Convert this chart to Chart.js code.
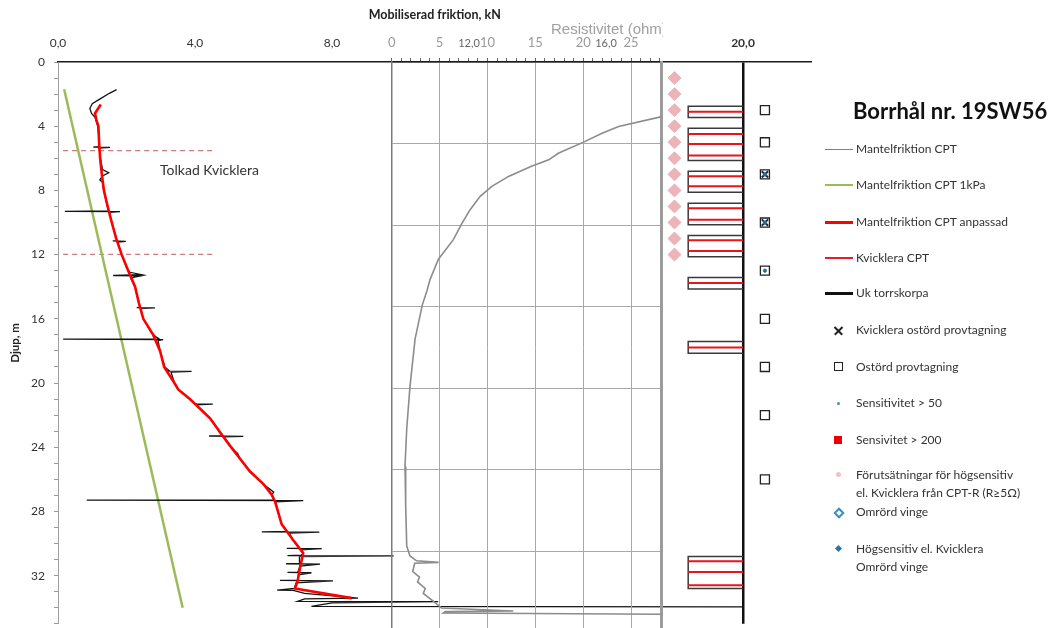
<!DOCTYPE html>
<html lang="sv">
<head>
<meta charset="UTF-8">
<title>Borrhål nr. 19SW56</title>
<script src="https://cdn.jsdelivr.net/npm/chart.js"></script>
<style>
    html, body { margin: 0; padding: 0; background: #fff; overflow: hidden; }
    body {
        width: 1058px; height: 628px; position: relative;
        font-family: Lato, "Open Sans", Arial, sans-serif; color: #333;
    }
    canvas { position: absolute; left: 0; top: 0; }
    .title { position: absolute; left: 853px; top: 97px; font-size: 22px; font-weight: 700; line-height: 28px; color: #111; white-space: nowrap; }
    .lg { position: absolute; left: 856px; font-size: 12px; line-height: 18px; color: #333; white-space: nowrap; }
    .ln { position: absolute; left: 825px; width: 28px; }
    .mk { position: absolute; }
    .cross { width: 11px; height: 11px; }
    .cross::before, .cross::after {
        content: ""; position: absolute; left: 0; top: 4.5px; width: 11px; height: 1.6px; background: #222;
    }
    .cross::before { transform: rotate(45deg); }
    .cross::after { transform: rotate(-45deg); }
</style>
</head>
<body>

<canvas id="friction" width="1058" height="640"></canvas>
<canvas id="resist" width="1058" height="640"></canvas>

<div class="title">Borrhål nr. 19SW56</div>

<div class="ln" style="top:148.5px;height:1.5px;background:#808080"></div>
<div class="lg" style="top:140px">Mantelfriktion CPT</div>
<div class="ln" style="top:184px;height:2px;background:#9bbb59"></div>
<div class="lg" style="top:176px">Mantelfriktion CPT 1kPa</div>
<div class="ln" style="top:220.5px;height:3px;background:#ff0000"></div>
<div class="lg" style="top:213px">Mantelfriktion CPT anpassad</div>
<div class="ln" style="top:257px;height:2px;background:#e0202c"></div>
<div class="lg" style="top:249px">Kvicklera CPT</div>
<div class="ln" style="top:292px;height:2.5px;background:#111"></div>
<div class="lg" style="top:284px">Uk torrskorpa</div>

<div class="mk cross" style="left:833px;top:325px"></div>
<div class="lg" style="top:321px">Kvicklera ostörd provtagning</div>
<div class="mk" style="left:834px;top:362px;width:7px;height:7px;border:1.5px solid #222"></div>
<div class="lg" style="top:358px">Ostörd provtagning</div>
<div class="mk" style="left:837px;top:402px;width:3px;height:3px;border-radius:50%;background:#3f8fb5"></div>
<div class="lg" style="top:394px">Sensitivitet &gt; 50</div>
<div class="mk" style="left:834px;top:436px;width:8px;height:8px;background:#e8000b"></div>
<div class="lg" style="top:431px">Sensivitet &gt; 200</div>
<div class="mk" style="left:836px;top:472px;width:5px;height:5px;border-radius:50%;background:#f0c2c9"></div>
<div class="lg" style="top:466px">Förutsätningar för högsensitiv<br>el. Kvicklera från CPT-R (R≥5Ω)</div>
<div class="mk" style="left:835px;top:509px;width:4px;height:4px;border:2px solid #3d8cc4;transform:rotate(45deg)"></div>
<div class="lg" style="top:503px">Omrörd vinge</div>
<div class="mk" style="left:836px;top:546px;width:5px;height:5px;background:#2673b0;transform:rotate(45deg)"></div>
<div class="lg" style="top:540px">Högsensitiv el. Kvicklera<br>Omrörd vinge</div>

<script>
    // ---- data (depth in m, friction in kN, resistivity in ohm) ----
    const adjDepth    = [2.65, 3.2, 3.6, 4.0, 5, 6, 7, 8, 9, 10, 11, 12, 13, 14, 15, 16, 17, 18, 19, 20, 20.4, 21, 21.6, 22.2, 23.06, 23.9, 24.7, 25.5, 26.3, 26.95, 27.4, 28.8, 29.8, 30.6, 31.45, 32.3, 32.8, 33.4];
    const adjFriction = [1.25, 1.08, 1.12, 1.18, 1.2, 1.23, 1.28, 1.34, 1.45, 1.57, 1.7, 1.86, 2.05, 2.25, 2.36, 2.49, 2.78, 2.98, 3.1, 3.4, 3.51, 3.85, 4.15, 4.44, 4.73, 5.02, 5.31, 5.6, 6.0, 6.24, 6.34, 6.53, 6.87, 7.16, 7.07, 7.0, 6.92, 8.57];

    const rawDepth = [1.72, 1.95, 2.3, 2.6, 2.9, 3.2, 3.45, 4.0, 4.8, 5.28, 5.3, 5.32, 5.36, 6.0, 6.7, 6.9, 7.1, 7.35, 7.5, 8.0,
        8.8, 9.28, 9.3, 9.32, 9.36, 10.0, 10.8, 11.13, 11.15, 11.17, 11.22, 12.0, 12.8, 13.1, 13.25, 13.3, 13.33, 13.45, 14.0, 15.0,
        15.28, 15.3, 15.32, 15.36, 16.0, 16.9, 17.1, 17.25, 17.27, 17.29, 17.35, 18.0, 19.0, 19.24, 19.26, 19.28, 19.32, 20.0, 20.4, 21.0,
        21.28, 21.3, 21.32, 21.36, 22.2, 23.06, 23.28, 23.3, 23.32, 23.36, 24.0, 24.4, 24.7, 25.5, 26.3, 26.8, 26.95, 27.28, 27.3, 27.32,
        27.4, 28.8, 29.25, 29.27, 29.29, 29.35, 29.8, 30.28, 30.3, 30.32, 30.4, 30.6, 30.73, 30.75, 30.77, 30.82, 31.24, 31.26, 31.28, 31.4,
        31.78, 31.8, 31.82, 31.95, 32.28, 32.3, 32.32, 32.45, 32.8, 32.9, 32.92, 33.1, 33.4, 33.45, 33.6, 33.62, 33.7, 33.92, 33.95];
    const rawFriction = [1.71, 1.5, 1.23, 1.0, 0.93, 0.98, 1.08, 1.16, 1.2, 1.18, 1.03, 1.52, 1.2, 1.24, 1.3, 1.48, 1.3, 1.22, 1.3, 1.34,
        1.42, 1.48, 0.2, 1.81, 1.5, 1.57, 1.68, 1.72, 1.6, 1.98, 1.74, 1.86, 2.0, 2.1, 2.45, 1.61, 2.4, 2.12, 2.25, 2.36,
        2.4, 2.3, 2.83, 2.42, 2.49, 2.74, 2.85, 2.95, 0.15, 3.07, 2.92, 2.98, 3.12, 3.25, 3.2, 3.9, 3.3, 3.4, 3.51, 3.85,
        3.98, 4.05, 4.52, 4.02, 4.44, 4.73, 4.8, 4.41, 5.41, 4.85, 5.05, 5.25, 5.31, 5.6, 6.0, 6.3, 6.24, 6.3, 0.84, 7.16,
        6.34, 6.53, 6.7, 5.95, 7.63, 6.75, 6.87, 7.05, 6.68, 7.7, 7.1, 7.16, 7.1, 6.7, 9.8, 7.05, 7.05, 6.66, 7.65, 7.07,
        7.0, 6.7, 7.4, 7.02, 7.0, 6.48, 8.03, 6.95, 6.9, 6.4, 6.87, 7.2, 8.76, 7.2, 7.0, 11.1, 8.0, 7.4, 20.0];

    const kpaDepth    = [1.7, 34.0];
    const kpaFriction = [0.18, 3.64];

    const kvickDepth    = [5.52, 11.98];   // Tolkad Kvicklera, top and bottom
    const kvickFriction = [0.15, 4.6];

    const resDepth = [3.0, 3.35, 3.96, 4.37, 4.93, 5.6, 6.0, 6.4, 7.02, 7.63, 8.24, 9.06, 9.92, 10.9, 12.1, 13.35, 14.0, 14.9, 17.0, 19.9,
        22.5, 24.8, 27.2, 29.7, 30.3, 30.6, 30.7, 30.75, 31.26, 31.6, 31.9, 32.3, 32.6, 33.1, 33.5, 33.68, 33.72, 33.8, 33.92];
    const resValue = [36, 28.2, 23.7, 21.97, 19.98, 17.4, 16.4, 14.6, 12.2, 10.46, 9.24, 8.19, 7.32, 6.44, 4.88, 4.0, 3.7, 3.2, 2.44, 1.91,
        1.57, 1.39, 1.46, 1.57, 1.91, 2.6, 4.9, 2.4, 2.2, 2.9, 2.7, 3.5, 3.3, 4.4, 5.2, 12.7, 5.6, 5.4, 40];

    const cptrDepth    = [1, 2, 3, 4, 5, 6, 7, 8, 9, 10, 11, 12];
    const boxTop       = [2.75, 4.12, 6.81, 8.80, 10.81, 13.42, 17.42, 30.81];
    const boxBottom    = [3.46, 6.14, 8.12, 10.14, 12.14, 14.14, 18.14, 32.80];
    const redLineDepth = [3.10, 4.49, 5.11, 5.83, 7.12, 7.74, 9.11, 9.83, 11.10, 11.78, 13.77, 17.78, 31.10, 31.78, 32.60];
    const sampleDepth  = [3, 5, 7, 10, 13, 16, 19, 22, 26];
    const crossDepth   = [7, 10];
    const sens50Depth  = [7, 10, 13];

    const frictionTicks = [0, 4, 8, 12, 16, 20];
    const depthLabels   = [0, 4, 8, 12, 16, 20, 24, 28, 32];
    const resLabels     = [0, 5, 10, 15, 20, 25];

    // ---- layout ----
    const W = 1058, H = 640;
    const plotTop = 62, pxPerM = 16.3, depthMax = 35;
    const padBottom = H - (plotTop + depthMax * pxPerM);
    const frictionMax = 22, resMax = 28.2;
    const cptrX = 18, boxLeft = 18.4, boxRight = 20, sampleX = 20.64;

    Chart.defaults.font.family = 'Lato, "Open Sans", Arial, sans-serif';
    Chart.defaults.color = '#333';
    Chart.defaults.animation = false;

    function pts(xs, ys) {
        return xs.map((x, i) => ({ x: x, y: ys[i] }));
    }
    function line(data, color, width, order, extra) {
        return Object.assign({ data: data, borderColor: color, borderWidth: width, showLine: true, pointRadius: 0, order: order }, extra || {});
    }

    const frictionSets = [
        line(pts(adjFriction, adjDepth), '#ff0000', 2.6, 1),
        line(pts(rawFriction, rawDepth), '#141414', 1.3, 2),
        line(pts(kpaFriction, kpaDepth), '#9bbb59', 2.5, 3)
    ];
    kvickDepth.forEach(d => {
        frictionSets.push(line(kvickFriction.map(x => ({ x: x, y: d })), '#c97b7e', 1.2, 4, { borderDash: [5, 4] }));
    });
    boxTop.forEach((t, i) => {
        const b = boxBottom[i];
        frictionSets.push(line([{ x: boxRight, y: t }, { x: boxLeft, y: t }, { x: boxLeft, y: b }, { x: boxRight, y: b }], '#3a3a3a', 1.5, 6));
    });
    redLineDepth.forEach(d => {
        frictionSets.push(line([{ x: boxLeft, y: d }, { x: boxRight, y: d }], '#e8151f', 2, 5));
    });
    frictionSets.push({
        data: cptrDepth.map(d => ({ x: cptrX, y: d })), pointStyle: 'rectRot', pointRadius: 6.5,
        backgroundColor: '#ecb3b8', borderColor: '#ecb3b8', order: 5
    });
    frictionSets.push({
        data: sampleDepth.map(d => ({ x: sampleX, y: d })), pointStyle: 'rect', pointRadius: 6.4,
        backgroundColor: '#fff', borderColor: '#222', borderWidth: 1.3, order: 3
    });
    frictionSets.push({
        data: crossDepth.map(d => ({ x: sampleX, y: d })), pointStyle: 'crossRot', pointRadius: 4.5,
        borderColor: '#1f2a44', borderWidth: 2, order: 2
    });
    frictionSets.push({
        data: sens50Depth.map(d => ({ x: sampleX, y: d })), pointStyle: 'circle', pointRadius: 1.6,
        backgroundColor: '#2f6f90', borderColor: '#2f6f90', order: 1
    });

    const kvickText = {
        id: 'kvickText',
        afterDatasetsDraw(chart) {
            const { ctx, scales } = chart;
            ctx.save();
            ctx.font = '14px Lato, "Open Sans", Arial, sans-serif';
            ctx.fillStyle = '#333';
            ctx.textBaseline = 'middle';
            ctx.fillText('Tolkad Kvicklera', scales.x.getPixelForValue(2.98), scales.y.getPixelForValue(6.77));
            ctx.restore();
        }
    };

    new Chart(document.getElementById('friction'), {
        type: 'scatter',
        data: { datasets: frictionSets },
        plugins: [kvickText],
        options: {
            responsive: false,
            events: [],
            layout: { padding: { left: 0, top: 0, right: W - (58 + frictionMax * 34.25), bottom: padBottom } },
            plugins: { legend: { display: false }, tooltip: { enabled: false } },
            scales: {
                x: {
                    type: 'linear', position: 'top', min: 0, max: frictionMax,
                    afterFit: s => { s.height = plotTop; },
                    afterBuildTicks: s => { s.ticks = frictionTicks.map(v => ({ value: v })); },
                    ticks: {
                        padding: 12, autoSkip: false, maxRotation: 0,
                        callback: v => v.toFixed(1).replace('.', ','),
                        color: c => (c.tick && (c.tick.value === 12 || c.tick.value === 16)) ? '#666' : '#333',
                        font: c => ({ size: (c.tick && (c.tick.value === 12 || c.tick.value === 16)) ? 11 : 12,
                                      weight: (c.tick && c.tick.value === 20) ? 'bold' : 'normal' })
                    },
                    grid: {
                        drawTicks: false,
                        color: c => (c.tick && c.tick.value === 20) ? '#111' : 'rgba(0,0,0,0)',
                        lineWidth: c => (c.tick && c.tick.value === 20) ? 2.5 : 1
                    },
                    border: { color: '#1a1a1a', width: 1.5 },
                    title: { display: true, text: 'Mobiliserad friktion, kN', color: '#222',
                             font: { size: 12.5, weight: 'bold' }, padding: { top: 7, bottom: 0 } }
                },
                y: {
                    type: 'linear', reverse: true, min: 0, max: depthMax,
                    afterFit: s => { s.width = 58; },
                    ticks: {
                        stepSize: 1, autoSkip: false, padding: 9, color: '#333', font: { size: 12 },
                        callback: v => depthLabels.includes(v) ? String(v) : ''
                    },
                    grid: { drawOnChartArea: false, tickLength: 4, tickColor: '#9a9a9a' },
                    border: { color: '#a0a0a0', width: 1 },
                    title: { display: true, text: 'Djup, m', color: '#222',
                             font: { size: 11.5, weight: 'bold' }, padding: { top: 8, bottom: 0 } }
                }
            }
        }
    });

    // the reference clips its resistivity title at the panel edge
    const resTitle = {
        id: 'resTitle',
        afterDraw(chart) {
            const ctx = chart.ctx;
            ctx.save();
            ctx.beginPath();
            ctx.rect(0, 0, chart.chartArea.right + 1, plotTop);
            ctx.clip();
            ctx.font = '15px "Liberation Sans", Arial, sans-serif';
            ctx.fillStyle = '#a0a0a0';
            ctx.textBaseline = 'middle';
            ctx.fillText('Resistivitet (ohm)', 551, 30);
            ctx.restore();
        }
    };

    new Chart(document.getElementById('resist'), {
        type: 'scatter',
        data: { datasets: [line(pts(resValue, resDepth), '#8c8c8c', 1.6, 1)] },
        plugins: [resTitle],
        options: {
            responsive: false,
            events: [],
            layout: { padding: { left: 0, top: 0, right: 0, bottom: padBottom } },
            plugins: { legend: { display: false }, tooltip: { enabled: false } },
            scales: {
                x: {
                    type: 'linear', position: 'top', min: 0, max: resMax,
                    afterFit: s => { s.height = plotTop; },
                    ticks: {
                        stepSize: 1, autoSkip: false, includeBounds: false, maxRotation: 0, padding: 7,
                        color: '#9a9a9a', font: { size: 13 },
                        callback: v => resLabels.includes(v) ? String(v) : ''
                    },
                    grid: {
                        color: c => (c.tick && resLabels.includes(c.tick.value)) ? '#a8a8a8' : 'rgba(0,0,0,0)',
                        tickColor: '#666', tickLength: 4
                    },
                    border: { color: '#1a1a1a', width: 1.5 }
                },
                y: {
                    type: 'linear', position: 'left', reverse: true, min: 0, max: depthMax,
                    afterFit: s => { s.width = 391.7; },
                    ticks: { display: false, stepSize: 5 },
                    grid: { color: '#a8a8a8', drawTicks: false },
                    border: { color: '#7a7a7a', width: 1.5 }
                },
                y2: {
                    type: 'linear', position: 'right', reverse: true, min: 0, max: depthMax,
                    afterFit: s => { s.width = W - 661.7; },
                    ticks: { display: false },
                    grid: { display: false },
                    border: { color: '#9c9c9c', width: 3 }
                }
            }
        }
    });
</script>

</body>
</html>
